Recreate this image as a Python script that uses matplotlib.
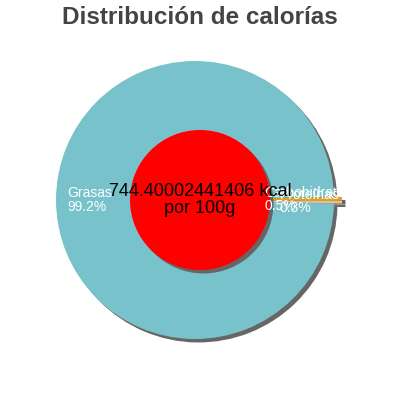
import numpy as np
import matplotlib
matplotlib.use("Agg")
from matplotlib import pyplot as plt
import matplotlib.patches as mpatches

# datos
nutrientes = ["Grasas", "Carbohidratos", "Proteínas"]
porcentajes = [99.2, 0.5, 0.3]
total_kcal = "744.40002441406"
titulo = "Distribución de calorías"

colores = ["#78c3cb", "#dba325", "#e8c28e"]
explode = [0, 8, 8]
label_dist = [0.92, 0.5, 0.61]

plt.rcParams['font.family'] = ['Liberation Sans', 'DejaVu Sans']

fig = plt.figure(figsize=(4, 4), dpi=100)
ax = fig.add_axes([0, 0, 1, 1])

cx, cy, r = 195, 200, 139

# explode va en unidades de datos
wedges, _ = ax.pie(porcentajes, colors=colores, radius=r, center=(cx, cy),
                   explode=explode, startangle=358.56,
                   counterclock=False, frame=True)
ax.set_xlim(0, 400)
ax.set_ylim(0, 400)
ax.set_aspect('equal')
ax.axis('off')

for w in wedges:
    s = mpatches.Shadow(w, 2.5, -2.5, facecolor="#666666", edgecolor="none", alpha=1)
    s.set_zorder(w.get_zorder() - 0.5)
    ax.add_patch(s)

# etiquetas
for w, nom, p, d in zip(wedges, nutrientes, porcentajes, label_dist):
    ang = np.deg2rad((w.theta1 + w.theta2) / 2)
    x = cx + d * r * np.cos(ang)
    y = cy + d * r * np.sin(ang)
    ax.text(x, y, f"{nom}\n{p}%", color="white", fontsize=10, ha="left",
            va="center", linespacing=0.95, zorder=5)

# circulo central
circ = mpatches.Circle((200, 200), 70, facecolor="#ff0000", edgecolor="none", zorder=3)
ax.add_patch(circ)
sh = mpatches.Shadow(circ, 2.5, -2.5, facecolor="#666666", edgecolor="none", alpha=1)
sh.set_zorder(2.5)
ax.add_patch(sh)

ax.text(200, 200, f"{total_kcal} kcal\npor 100g", color="black", fontsize=13,
        ha="center", va="center", linespacing=1.0, zorder=6)

ax.text(200, 383, titulo, color="#444444", fontsize=17.5, fontweight="bold",
        ha="center", va="center")

fig.savefig("out.png", dpi=100)
